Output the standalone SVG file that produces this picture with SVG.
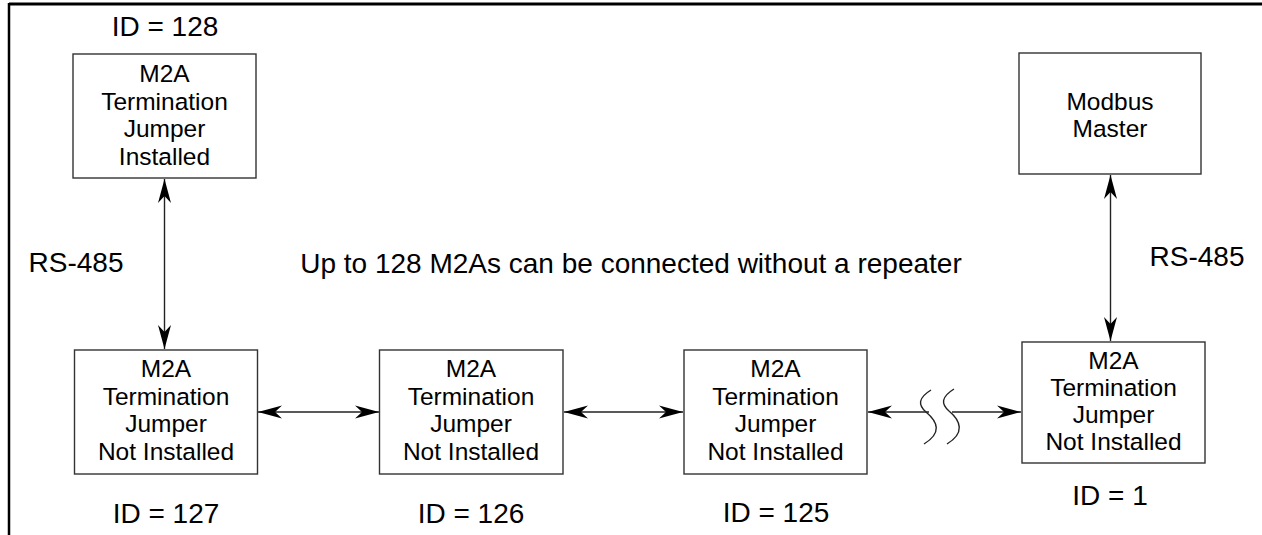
<svg xmlns="http://www.w3.org/2000/svg" width="1262" height="535" viewBox="0 0 1262 535">
<style>
.box{fill:#fff;stroke:#333;stroke-width:1.4}
.t{font-family:"Liberation Sans",Arial,sans-serif;fill:#000;text-anchor:middle}
.bt{font-size:24.5px}
.lt{font-size:28px}
.ln{fill:none;stroke:#222;stroke-width:1.4}
.frame{stroke:#000;fill:none}
</style>
<defs>
<marker id="ah" markerUnits="userSpaceOnUse" viewBox="-25 -8 26 16" refX="0" refY="0" markerWidth="26" markerHeight="16" orient="auto-start-reverse">
<path d="M0,0 L-24,-6.5 L-17,0 L-24,6.5 Z" fill="#000"/>
</marker>
</defs>
<rect width="1262" height="535" fill="#fff"/>
<line class="frame" x1="9" y1="4" x2="1262" y2="4" stroke-width="3"/>
<line class="frame" x1="9" y1="3" x2="9" y2="535" stroke-width="2.5"/>

<g id="connectors">
<line class="ln" x1="164.5" y1="179" x2="164.5" y2="349" marker-start="url(#ah)" marker-end="url(#ah)"/>
<line class="ln" x1="1110.5" y1="175" x2="1110.5" y2="341" marker-start="url(#ah)" marker-end="url(#ah)"/>
<line class="ln" x1="258" y1="412" x2="379" y2="412" marker-start="url(#ah)" marker-end="url(#ah)"/>
<line class="ln" x1="564" y1="412" x2="683" y2="412" marker-start="url(#ah)" marker-end="url(#ah)"/>
<line class="ln" x1="929" y1="412" x2="868" y2="412" marker-end="url(#ah)"/>
<line class="ln" x1="952" y1="412" x2="1021" y2="412" marker-end="url(#ah)"/>
<path class="ln" d="M931,390 C918,398 918,405 926,412 C938,422 942,433 924,444"/>
<path class="ln" d="M954,389 C941,397 941,404 949,411 C961,421 965,433 947,444"/>
</g>

<g id="n128">
<rect class="box" x="73" y="54" width="183" height="124"/>
<text class="t bt" x="164.5" y="82">M2A</text>
<text class="t bt" x="164.5" y="109.5">Termination</text>
<text class="t bt" x="164.5" y="137">Jumper</text>
<text class="t bt" x="164.5" y="164.5">Installed</text>
</g>
<g id="n127">
<rect class="box" x="74.5" y="350" width="183" height="124"/>
<text class="t bt" x="166" y="377">M2A</text>
<text class="t bt" x="166" y="404.5">Termination</text>
<text class="t bt" x="166" y="432">Jumper</text>
<text class="t bt" x="166" y="459.5">Not Installed</text>
</g>
<g id="n126">
<rect class="box" x="379.5" y="350" width="183.5" height="124"/>
<text class="t bt" x="471" y="377">M2A</text>
<text class="t bt" x="471" y="404.5">Termination</text>
<text class="t bt" x="471" y="432">Jumper</text>
<text class="t bt" x="471" y="459.5">Not Installed</text>
</g>
<g id="n125">
<rect class="box" x="684" y="350" width="183" height="124"/>
<text class="t bt" x="775.5" y="377">M2A</text>
<text class="t bt" x="775.5" y="404.5">Termination</text>
<text class="t bt" x="775.5" y="432">Jumper</text>
<text class="t bt" x="775.5" y="459.5">Not Installed</text>
</g>
<g id="n1">
<rect class="box" x="1022" y="342" width="183" height="121"/>
<text class="t bt" x="1113.5" y="368.5">M2A</text>
<text class="t bt" x="1113.5" y="395.5">Termination</text>
<text class="t bt" x="1113.5" y="422.5">Jumper</text>
<text class="t bt" x="1113.5" y="449.5">Not Installed</text>
</g>
<g id="master">
<rect class="box" x="1019" y="53" width="182" height="121"/>
<text class="t bt" x="1110" y="110">Modbus</text>
<text class="t bt" x="1110" y="137">Master</text>
</g>

<g id="labels">
<text class="t lt" x="165" y="36">ID = 128</text>
<text class="t lt" x="166" y="523">ID = 127</text>
<text class="t lt" x="471" y="523">ID = 126</text>
<text class="t lt" x="776" y="522">ID = 125</text>
<text class="t lt" x="1110" y="505">ID = 1</text>
<text class="t lt" x="76" y="272">RS-485</text>
<text class="t lt" x="1197" y="266">RS-485</text>
<text class="t lt" x="631" y="273">Up to 128 M2As can be connected without a repeater</text>
</g>
</svg>
